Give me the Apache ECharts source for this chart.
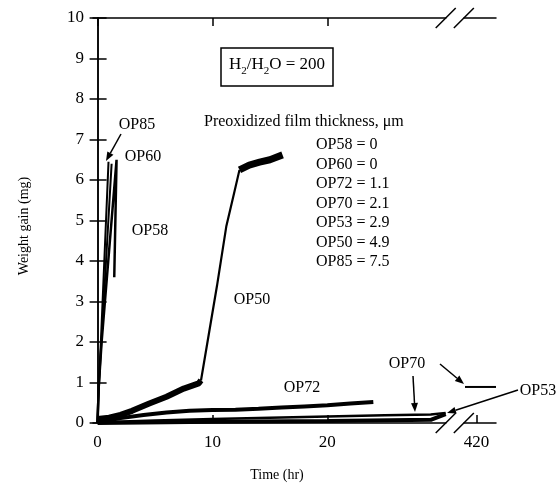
<!DOCTYPE html>
<html><head><meta charset="utf-8">
<script src="https://cdn.jsdelivr.net/npm/echarts@6/dist/echarts.min.js"></script>
<style>html,body{margin:0;padding:0;background:#fff}#c{width:560px;height:494px}</style>
</head><body><div id="c"></div>
<script>
// ---- data (hours, mg) ----
const xTickValues = [0, 10, 20, 420];
const xTopTicks = [0, 10, 20];
const yTicks = [0, 1, 2, 3, 4, 5, 6, 7, 8, 9, 10];
const xBreak = [30.3, 418.9];
const op85 = [[-0.05, 0], [0.3, 2.1], [0.95, 6.45]];
const op60 = [[0, 0], [0.15, 1.1], [1.22, 6.4]];
const op58 = [[0, 0], [0.1, 0.9], [0.35, 2.0], [1.65, 6.5], [1.45, 3.6]];
const op50Early = [[0, 0.1], [1, 0.13], [2, 0.2], [3, 0.3], [4.5, 0.48], [6, 0.65], [7.5, 0.85], [8.8, 0.98], [9.0, 1.05]];
const op50Rise = [[9.0, 1.05], [10.4, 3.4], [11.2, 4.85], [11.9, 5.7], [12.35, 6.25]];
const op50Plateau = [[12.35, 6.25], [13.2, 6.37], [14.1, 6.44], [15, 6.5], [16.1, 6.62]];
const op72 = [[0, 0.02], [2, 0.12], [4, 0.2], [6, 0.26], [8, 0.3], [10, 0.32], [12, 0.33], [14, 0.35], [16, 0.38], [18, 0.41], [20, 0.44], [22, 0.48], [24, 0.52]];
const op70 = [[0, 0.02], [5, 0.06], [10, 0.1], [15, 0.13], [20, 0.16], [25, 0.19], [29, 0.21], [30.3, 0.25]];
const op70Late = [[419.0, 0.89], [421.7, 0.89]];
const op53 = [[0, 0], [10, 0.03], [20, 0.05], [29, 0.08], [30.3, 0.22]];
const legendTitle = 'Preoxidized film thickness, \u03bcm';
const legendRows = ['OP58 = 0', 'OP60 = 0', 'OP72 = 1.1', 'OP70 = 2.1', 'OP53 = 2.9', 'OP50 = 4.9', 'OP85 = 7.5'];

const FONT = 'Liberation Serif';
const chart = echarts.init(document.getElementById('c'), null, {renderer: 'canvas'});

function ln(data, w) {
  return {type: 'line', data: data, showSymbol: false, symbol: 'none', animation: false,
    lineStyle: {color: '#000', width: w}, silent: true};
}
const xBase = {
  type: 'value', min: -0.4, max: 421.7,
  breaks: [{start: xBreak[0], end: xBreak[1], gap: '4.5%'}],
  breakArea: {show: false},
  splitLine: {show: false},
  axisLine: {show: true, onZero: false, lineStyle: {color: '#000', width: 1.5}},
};
chart.setOption({
  animation: false,
  grid: {left: 93, right: 64, top: 18, bottom: 71, containLabel: false},
  xAxis: [
    Object.assign({}, xBase, {position: 'bottom',
      axisTick: {show: true, inside: true, length: 8, customValues: xTickValues, lineStyle: {color: '#000', width: 1.5}},
      axisLabel: {show: true, customValues: xTickValues, margin: 11, color: '#000', fontFamily: FONT, fontSize: 17}}),
    Object.assign({}, xBase, {position: 'top',
      axisTick: {show: true, inside: true, length: 8, customValues: xTopTicks, lineStyle: {color: '#000', width: 1.5}},
      axisLabel: {show: false}})
  ],
  yAxis: [
    {type: 'value', min: 0, max: 10, interval: 1, position: 'left', splitLine: {show: false},
      axisLine: {show: true, lineStyle: {color: '#000', width: 1.5}},
      axisTick: {show: true, inside: true, length: 9, lineStyle: {color: '#000', width: 1.5}},
      axisLabel: {margin: 9, color: '#000', fontFamily: FONT, fontSize: 17}},
    {type: 'value', min: 0, max: 10, interval: 1, position: 'right', splitLine: {show: false},
      axisLine: {show: true, lineStyle: {color: '#000', width: 1.5}},
      axisTick: {show: true, inside: true, length: 8, lineStyle: {color: '#000', width: 1.5}},
      axisLabel: {show: false}}
  ],
  series: [
    ln(op85, 2), ln(op60, 2), ln(op58, 2.5),
    ln(op50Early, 6), ln(op50Rise, 2.2), ln(op50Plateau, 7),
    ln(op72, 4), ln(op70, 2.5), ln(op70Late, 2), ln(op53, 4)
  ]
});

// ---- annotations ----
function txt(x, y, s, size, align) {
  return {type: 'text', x: x, y: y, silent: true, z: 50,
    style: {text: s, fill: '#000', font: (size || 16) + 'px "' + FONT + '"', align: align || 'center', verticalAlign: 'middle'}};
}
function arrow(x1, y1, x2, y2) {
  const a = Math.atan2(y2 - y1, x2 - x1), L = 9, W = 3.5;
  const bx = x2 - L * Math.cos(a), by = y2 - L * Math.sin(a);
  const px = -Math.sin(a) * W, py = Math.cos(a) * W;
  return [
    {type: 'line', silent: true, z: 50, shape: {x1: x1, y1: y1, x2: bx, y2: by}, style: {stroke: '#000', lineWidth: 1.5}},
    {type: 'polygon', silent: true, z: 50, shape: {points: [[x2, y2], [bx + px, by + py], [bx - px, by - py]]}, style: {fill: '#000'}}
  ];
}
const xs = chart.convertToPixel({xAxisIndex: 0}, xBreak[0]);
const xe = chart.convertToPixel({xAxisIndex: 0}, xBreak[1]);
const yBot = chart.convertToPixel({yAxisIndex: 0}, 0);
const yTop = chart.convertToPixel({yAxisIndex: 0}, 10);
const g = [];
[yBot, yTop].forEach(function (yy) {
  g.push({type: 'rect', silent: true, z: 40, shape: {x: xs + 1, y: yy - 3, width: xe - xs - 2, height: 6}, style: {fill: '#fff'}});
  [xs, xe].forEach(function (xx) {
    g.push({type: 'line', silent: true, z: 41, shape: {x1: xx - 10, y1: yy + 10, x2: xx + 10, y2: yy - 10}, style: {stroke: '#000', lineWidth: 1.5}});
  });
});
g.push({type: 'rect', silent: true, z: 50, shape: {x: 221, y: 48, width: 112, height: 38}, style: {fill: 'none', stroke: '#000', lineWidth: 1.5}});
g.push({type: 'text', x: 277, y: 67, silent: true, z: 51, style: {
  text: '{n|H}{s|2}{n|/H}{s|2}{n|O = 200}', align: 'center', verticalAlign: 'middle',
  rich: {n: {font: '17px "' + FONT + '"', fill: '#000', padding: [0, 0, 5, 0]}, s: {font: '11px "' + FONT + '"', fill: '#000', padding: [8, 0, 0, 0]}}}});
g.push(txt(204, 122, legendTitle, 16, 'left'));
legendRows.forEach(function (r, i) { g.push(txt(316, 145 + i * 19.5, r, 16, 'left')); });
g.push(txt(137, 125, 'OP85', 16));
g.push(txt(143, 157, 'OP60', 16));
g.push(txt(150, 231, 'OP58', 16));
g.push(txt(252, 300, 'OP50', 16));
g.push(txt(302, 388, 'OP72', 16));
g.push(txt(407, 364, 'OP70', 16));
g.push(txt(538, 391, 'OP53', 16));
arrow(121, 134, 106, 161).forEach(function (e) { g.push(e); });
arrow(413, 376, 415, 412).forEach(function (e) { g.push(e); });
arrow(440, 364, 464, 384).forEach(function (e) { g.push(e); });
arrow(518, 390, 447, 413).forEach(function (e) { g.push(e); });
g.push({type: 'text', x: 277, y: 475, silent: true, style: {text: 'Time (hr)', fill: '#000', font: '14px "' + FONT + '"', align: 'center', verticalAlign: 'middle'}});
g.push({type: 'text', x: 24, y: 226, rotation: Math.PI / 2, silent: true, style: {text: 'Weight gain (mg)', fill: '#000', font: '14px "' + FONT + '"', align: 'center', verticalAlign: 'middle'}});
chart.setOption({graphic: g});
</script>
</body></html>
